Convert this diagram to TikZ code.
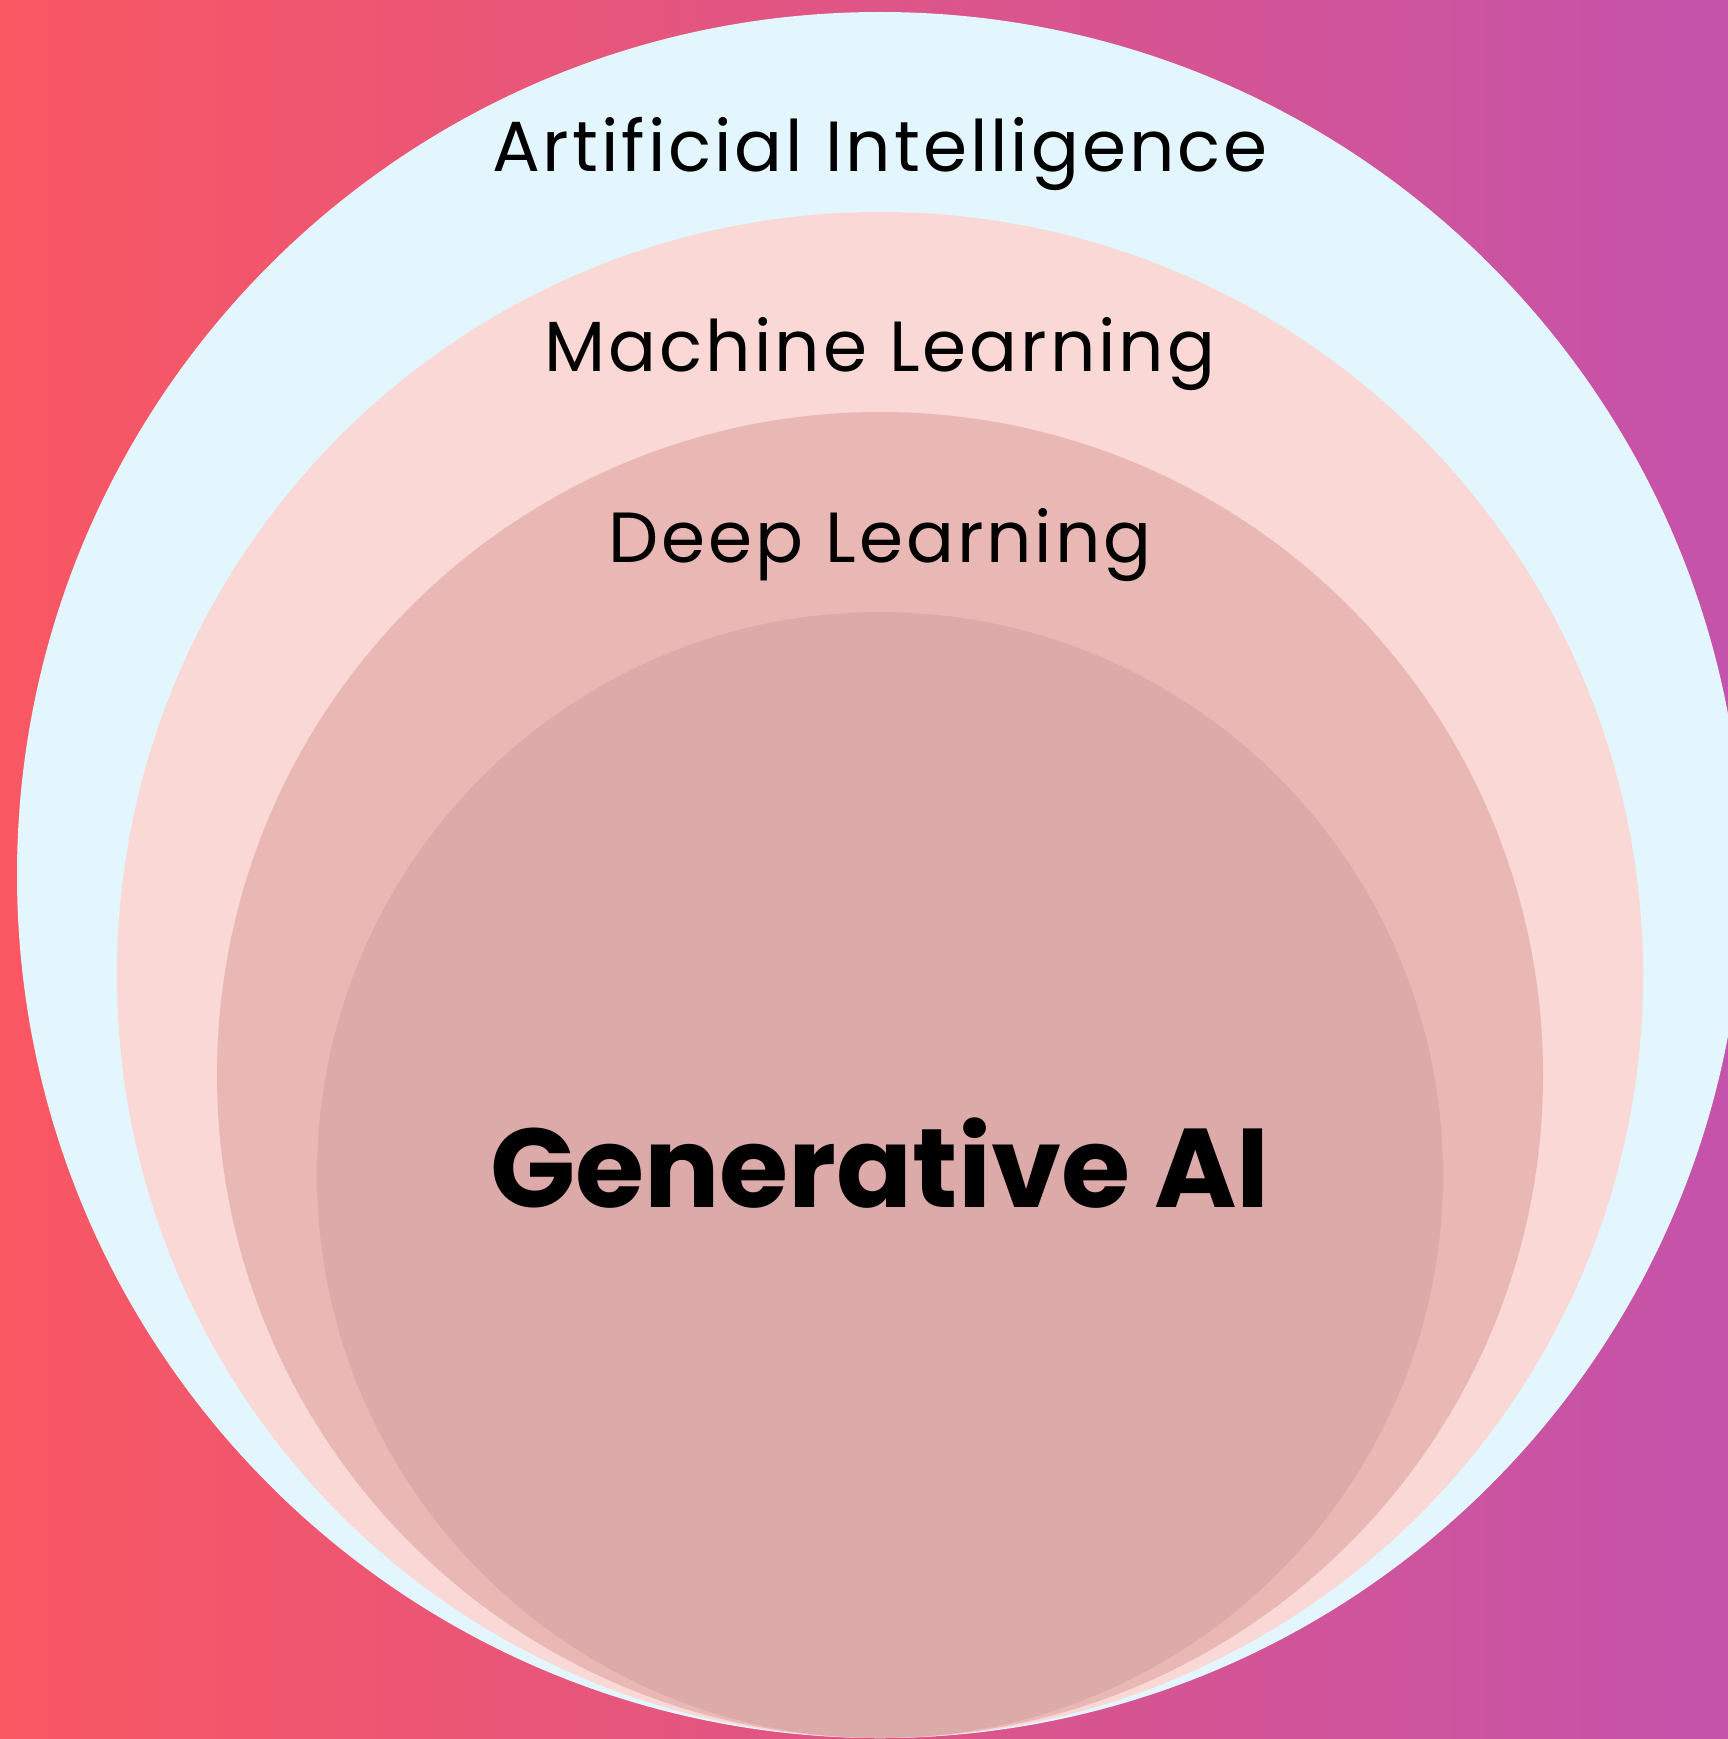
\documentclass[tikz,border=0pt]{standalone}
\usepackage{fontspec}
\setmainfont{Poppins}
\newfontfamily\lblfont[LetterSpace=4.2]{Poppins}
\definecolor{bgleft}{RGB}{249,87,98}
\definecolor{bgright}{RGB}{196,83,171}
\definecolor{aicol}{RGB}{227,246,253}
\definecolor{mlcol}{RGB}{249,216,214}
\definecolor{dlcol}{RGB}{233,184,181}
\definecolor{gencol}{RGB}{221,170,170}
\tikzset{
  lbl/.style={anchor=base, inner sep=0pt, text=black, font=\lblfont\fontsize{71}{80}\selectfont},
  biglbl/.style={anchor=base, inner sep=0pt, text=black, font=\fontsize{112}{120}\selectfont\bfseries}
}
\begin{document}
\begin{tikzpicture}[x=1pt,y=-1pt]
\useasboundingbox (0,0) rectangle (1728,1739);
\clip (0,0) rectangle (1728,1739);
\shade[left color=bgleft, right color=bgright] (0,0) rectangle (1728,1739);
\fill[aicol] (880,875) circle (863);
\fill[mlcol] (880,975) circle (763);
\fill[dlcol] (880,1075) circle (663);
\fill[gencol] (880,1175) circle (563);
\node[lbl] (ai) at (880,172) {Artificial Intelligence};
\node[lbl] (ml) at (880,371) {Machine Learning};
\node[lbl] (dl) at (880,562) {Deep Learning};
\node[biglbl] (gen) at (880,1207) {Generative AI};
\end{tikzpicture}
\end{document}
